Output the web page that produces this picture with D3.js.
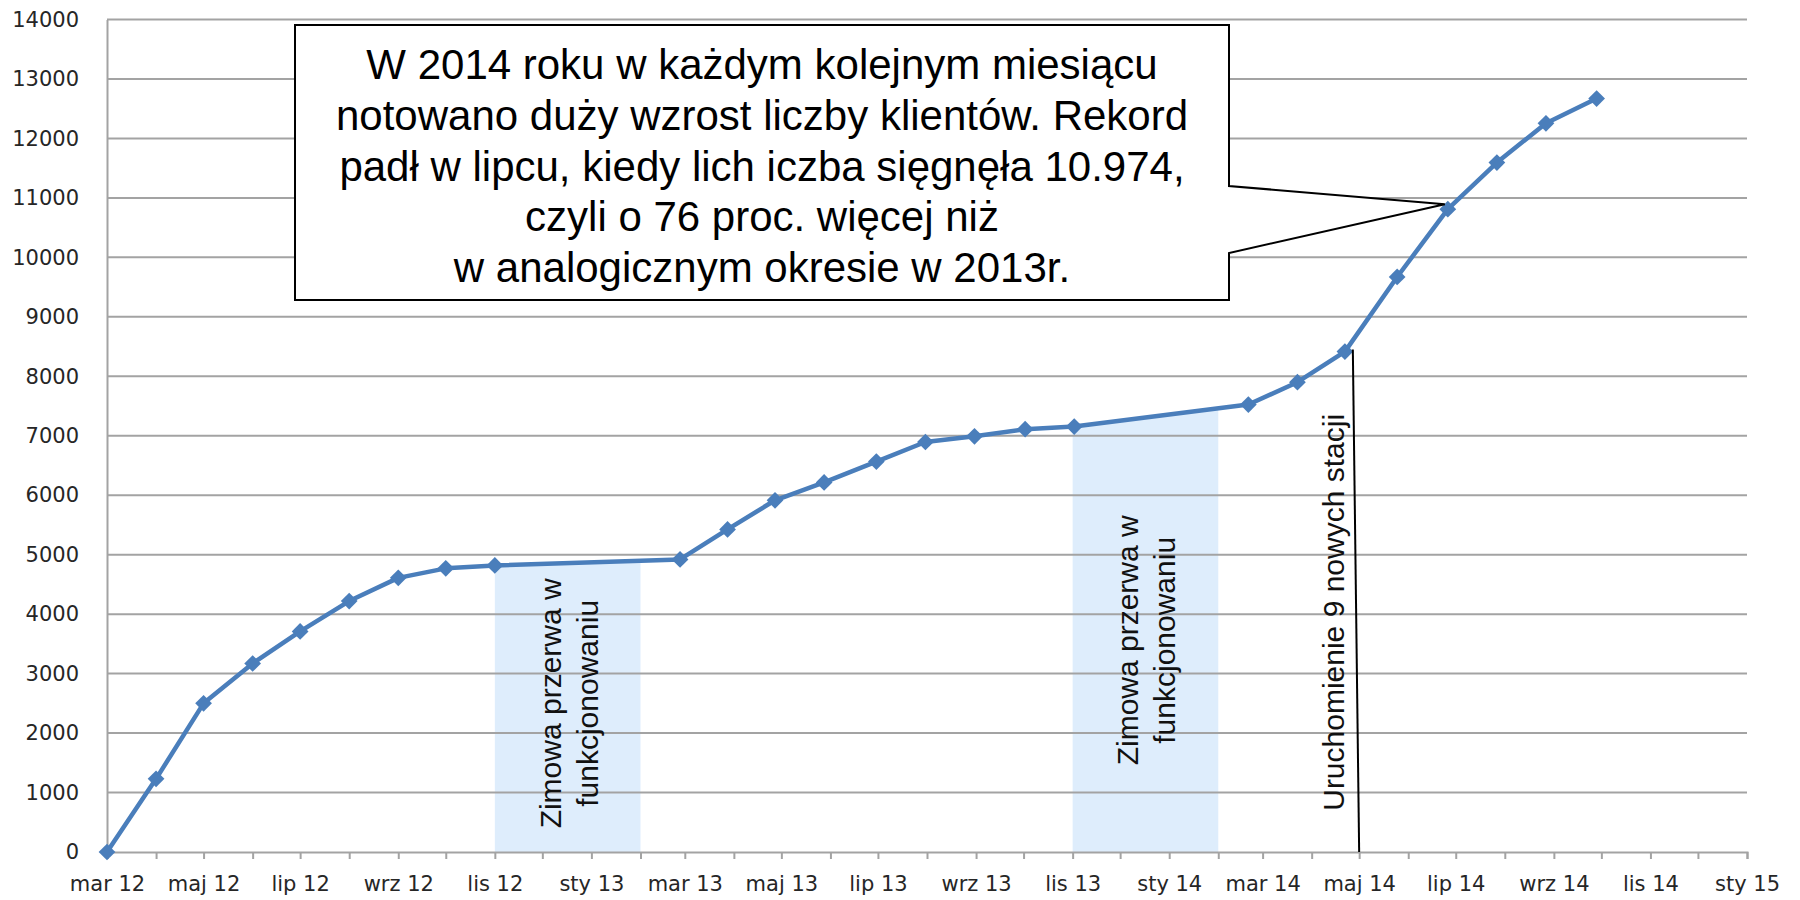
<!DOCTYPE html>
<html><head><meta charset="utf-8">
<script src="https://cdnjs.cloudflare.com/ajax/libs/d3/7.8.5/d3.min.js"></script>
<style>html,body{margin:0;padding:0;background:#fff;}svg{display:block;}</style>
</head><body>
<svg id="chart" width="1800" height="900"></svg>
<script>
// ---- data ----
const pointDates = ["2012-03-01","2012-04-01","2012-05-01","2012-06-01","2012-07-01","2012-08-01","2012-09-01","2012-10-01","2012-11-01",
  "2013-02-26","2013-03-28","2013-04-27","2013-05-28","2013-06-30","2013-07-31","2013-08-31","2013-10-02","2013-11-02",
  "2014-02-20","2014-03-23","2014-04-22","2014-05-25","2014-06-26","2014-07-27","2014-08-27","2014-09-28"];
const clientCounts = [0,1230,2500,3170,3710,4220,4610,4770,4820,
  4920,5425,5915,6215,6565,6895,6990,7110,7155,
  7525,7900,8415,9670,10810,11595,12255,12670];
const yTicks = [0,1000,2000,3000,4000,5000,6000,7000,8000,9000,10000,11000,12000,13000,14000];
const xTickLabels = ["mar 12","maj 12","lip 12","wrz 12","lis 12","sty 13","mar 13","maj 13","lip 13","wrz 13","lis 13","sty 14","mar 14","maj 14","lip 14","wrz 14","lis 14","sty 15"];
const xTickLabelDates = ["2012-03-01","2012-05-01","2012-07-01","2012-09-01","2012-11-01","2013-01-01","2013-03-01","2013-05-01","2013-07-01","2013-09-01","2013-11-01","2014-01-01","2014-03-01","2014-05-01","2014-07-01","2014-09-01","2014-11-01","2015-01-01"];
const xDomain = ["2012-03-01","2015-01-01"];
const winterStarts = ["2012-11-01","2013-11-01"];
const winterEnds = ["2013-02-01","2014-02-01"];
const winterLabelLevel = [2500,3560];
const winterLabelLines = ["Zimowa przerwa w","funkcjonowaniu"];
const eventTopDate = "2014-04-27", eventTopValue = 8450, eventBottomDate = "2014-05-01", eventBottomValue = 0;
const eventLabel = "Uruchomienie 9 nowych stacji", eventLabelLevel = 4030;
const calloutIndex = 22;
const calloutLines = ["W 2014 roku w każdym kolejnym miesiącu","notowano duży wzrost liczby klientów. Rekord","padł w lipcu, kiedy lich iczba sięgnęła 10.974,","czyli o 76 proc. więcej niż","w analogicznym okresie w 2013r."];

// ---- setup ----
const parse = d3.utcParse("%Y-%m-%d");
const pts = pointDates.map((d,i)=>({date:parse(d), v:clientCounts[i]}));
const svg = d3.select("#chart");
const L=107, R=1747, B=852, T=19.5;
const x = d3.scaleUtc().domain(xDomain.map(parse)).range([L,R]);
const y = d3.scaleLinear().domain([0,14000]).range([B,T]);
const gridColor = "#a3a3a3";
const lineColor = "#4a7ebb";
const labelFont = "'DejaVu Sans', Verdana, sans-serif";

function valueAt(date){
  const bis = d3.bisector(p=>p.date).right;
  const i = bis(pts, date);
  if(i<=0) return pts[0].v;
  if(i>=pts.length) return pts[pts.length-1].v;
  const a=pts[i-1], b=pts[i];
  const t=(date-a.date)/(b.date-a.date);
  return a.v + t*(b.v-a.v);
}

// winter shading (area under the line)
const area = d3.area().x(p=>x(p.date)).y0(y(0)).y1(p=>y(p.v));
winterStarts.forEach((s,i)=>{
  const d0=parse(s), d1=parse(winterEnds[i]);
  const poly=[{date:d0,v:valueAt(d0)}].concat(pts.filter(p=>p.date>d0&&p.date<d1)).concat([{date:d1,v:valueAt(d1)}]);
  svg.append("path").attr("d",area(poly)).attr("fill","#deedfc");
});

// gridlines
svg.append("g").selectAll("line").data(yTicks.filter(v=>v>0)).join("line")
  .attr("x1",L).attr("x2",R).attr("y1",d=>y(d)).attr("y2",d=>y(d))
  .attr("stroke",gridColor).attr("stroke-width",2);

// y axis
const yAxis = svg.append("g").attr("transform",`translate(${L},0)`)
  .call(d3.axisLeft(y).tickValues(yTicks).tickSize(0).tickPadding(28).tickFormat(d3.format("d")));
yAxis.select(".domain").attr("stroke",gridColor).attr("stroke-width",2);
yAxis.selectAll("text").attr("font-family",labelFont).attr("font-size",21).attr("fill","#262626");

// x axis
const monthTicks = d3.utcMonth.range(parse(xDomain[0]), d3.utcDay.offset(parse(xDomain[1]),1));
const labelMap = new Map(xTickLabelDates.map((d,i)=>[+parse(d), xTickLabels[i]]));
const xAxis = svg.append("g").attr("transform",`translate(0,${B})`)
  .call(d3.axisBottom(x).tickValues(monthTicks).tickSize(7).tickPadding(17)
    .tickFormat(d=>labelMap.get(+d)||""));
xAxis.select(".domain").attr("stroke",gridColor).attr("stroke-width",2);
xAxis.selectAll(".tick line").attr("stroke",gridColor).attr("stroke-width",2);
xAxis.selectAll("text").attr("font-family",labelFont).attr("font-size",21).attr("fill","#262626");

// line + markers
svg.append("path").datum(pts)
  .attr("d",d3.line().x(p=>x(p.date)).y(p=>y(p.v)))
  .attr("fill","none").attr("stroke",lineColor).attr("stroke-width",4.5).attr("stroke-linejoin","round");
svg.append("g").selectAll("path").data(pts).join("path")
  .attr("d",d3.symbol(d3.symbolSquare,140))
  .attr("transform",p=>`translate(${x(p.date)},${y(p.v)}) rotate(45)`)
  .attr("fill",lineColor);

// winter labels
winterStarts.forEach((s,i)=>{
  const cx=(x(parse(s))+x(parse(winterEnds[i])))/2, cy=y(winterLabelLevel[i]);
  const g=svg.append("g").attr("transform",`translate(${cx},${cy}) rotate(-90)`);
  winterLabelLines.forEach((t,j)=>{
    g.append("text").attr("x",0).attr("y",j===0?-7:30).attr("text-anchor","middle")
      .attr("font-family","'Liberation Sans', Arial, sans-serif").attr("font-size",30).attr("fill","#111").text(t);
  });
});

// event line + label
svg.append("line")
  .attr("x1",x(parse(eventTopDate))).attr("y1",y(eventTopValue))
  .attr("x2",x(parse(eventBottomDate))).attr("y2",y(eventBottomValue))
  .attr("stroke","#000").attr("stroke-width",2);
svg.append("g").attr("transform",`translate(${x(parse(eventBottomDate))-15},${y(eventLabelLevel)}) rotate(-90)`)
  .append("text").attr("text-anchor","middle")
  .attr("font-family","'Liberation Sans', Arial, sans-serif").attr("font-size",30).attr("fill","#111").text(eventLabel);

// callout
const bx0=295, by0=25, bx1=1229, by1=300, py0=186, py1=253;
const tx=x(pts[calloutIndex].date)-3, ty=y(pts[calloutIndex].v)-5;
svg.append("path")
  .attr("d",`M${bx0},${by0}H${bx1}V${py0}L${tx},${ty}L${bx1},${py1}V${by1}H${bx0}Z`)
  .attr("fill","#fff").attr("stroke","#000").attr("stroke-width",2);
calloutLines.forEach((t,i)=>{
  svg.append("text").attr("x",(bx0+bx1)/2).attr("y",79+i*50.75).attr("text-anchor","middle")
    .attr("font-family","'Liberation Sans', Arial, sans-serif").attr("font-size",42).attr("fill","#000").text(t);
});
</script>
</body></html>
